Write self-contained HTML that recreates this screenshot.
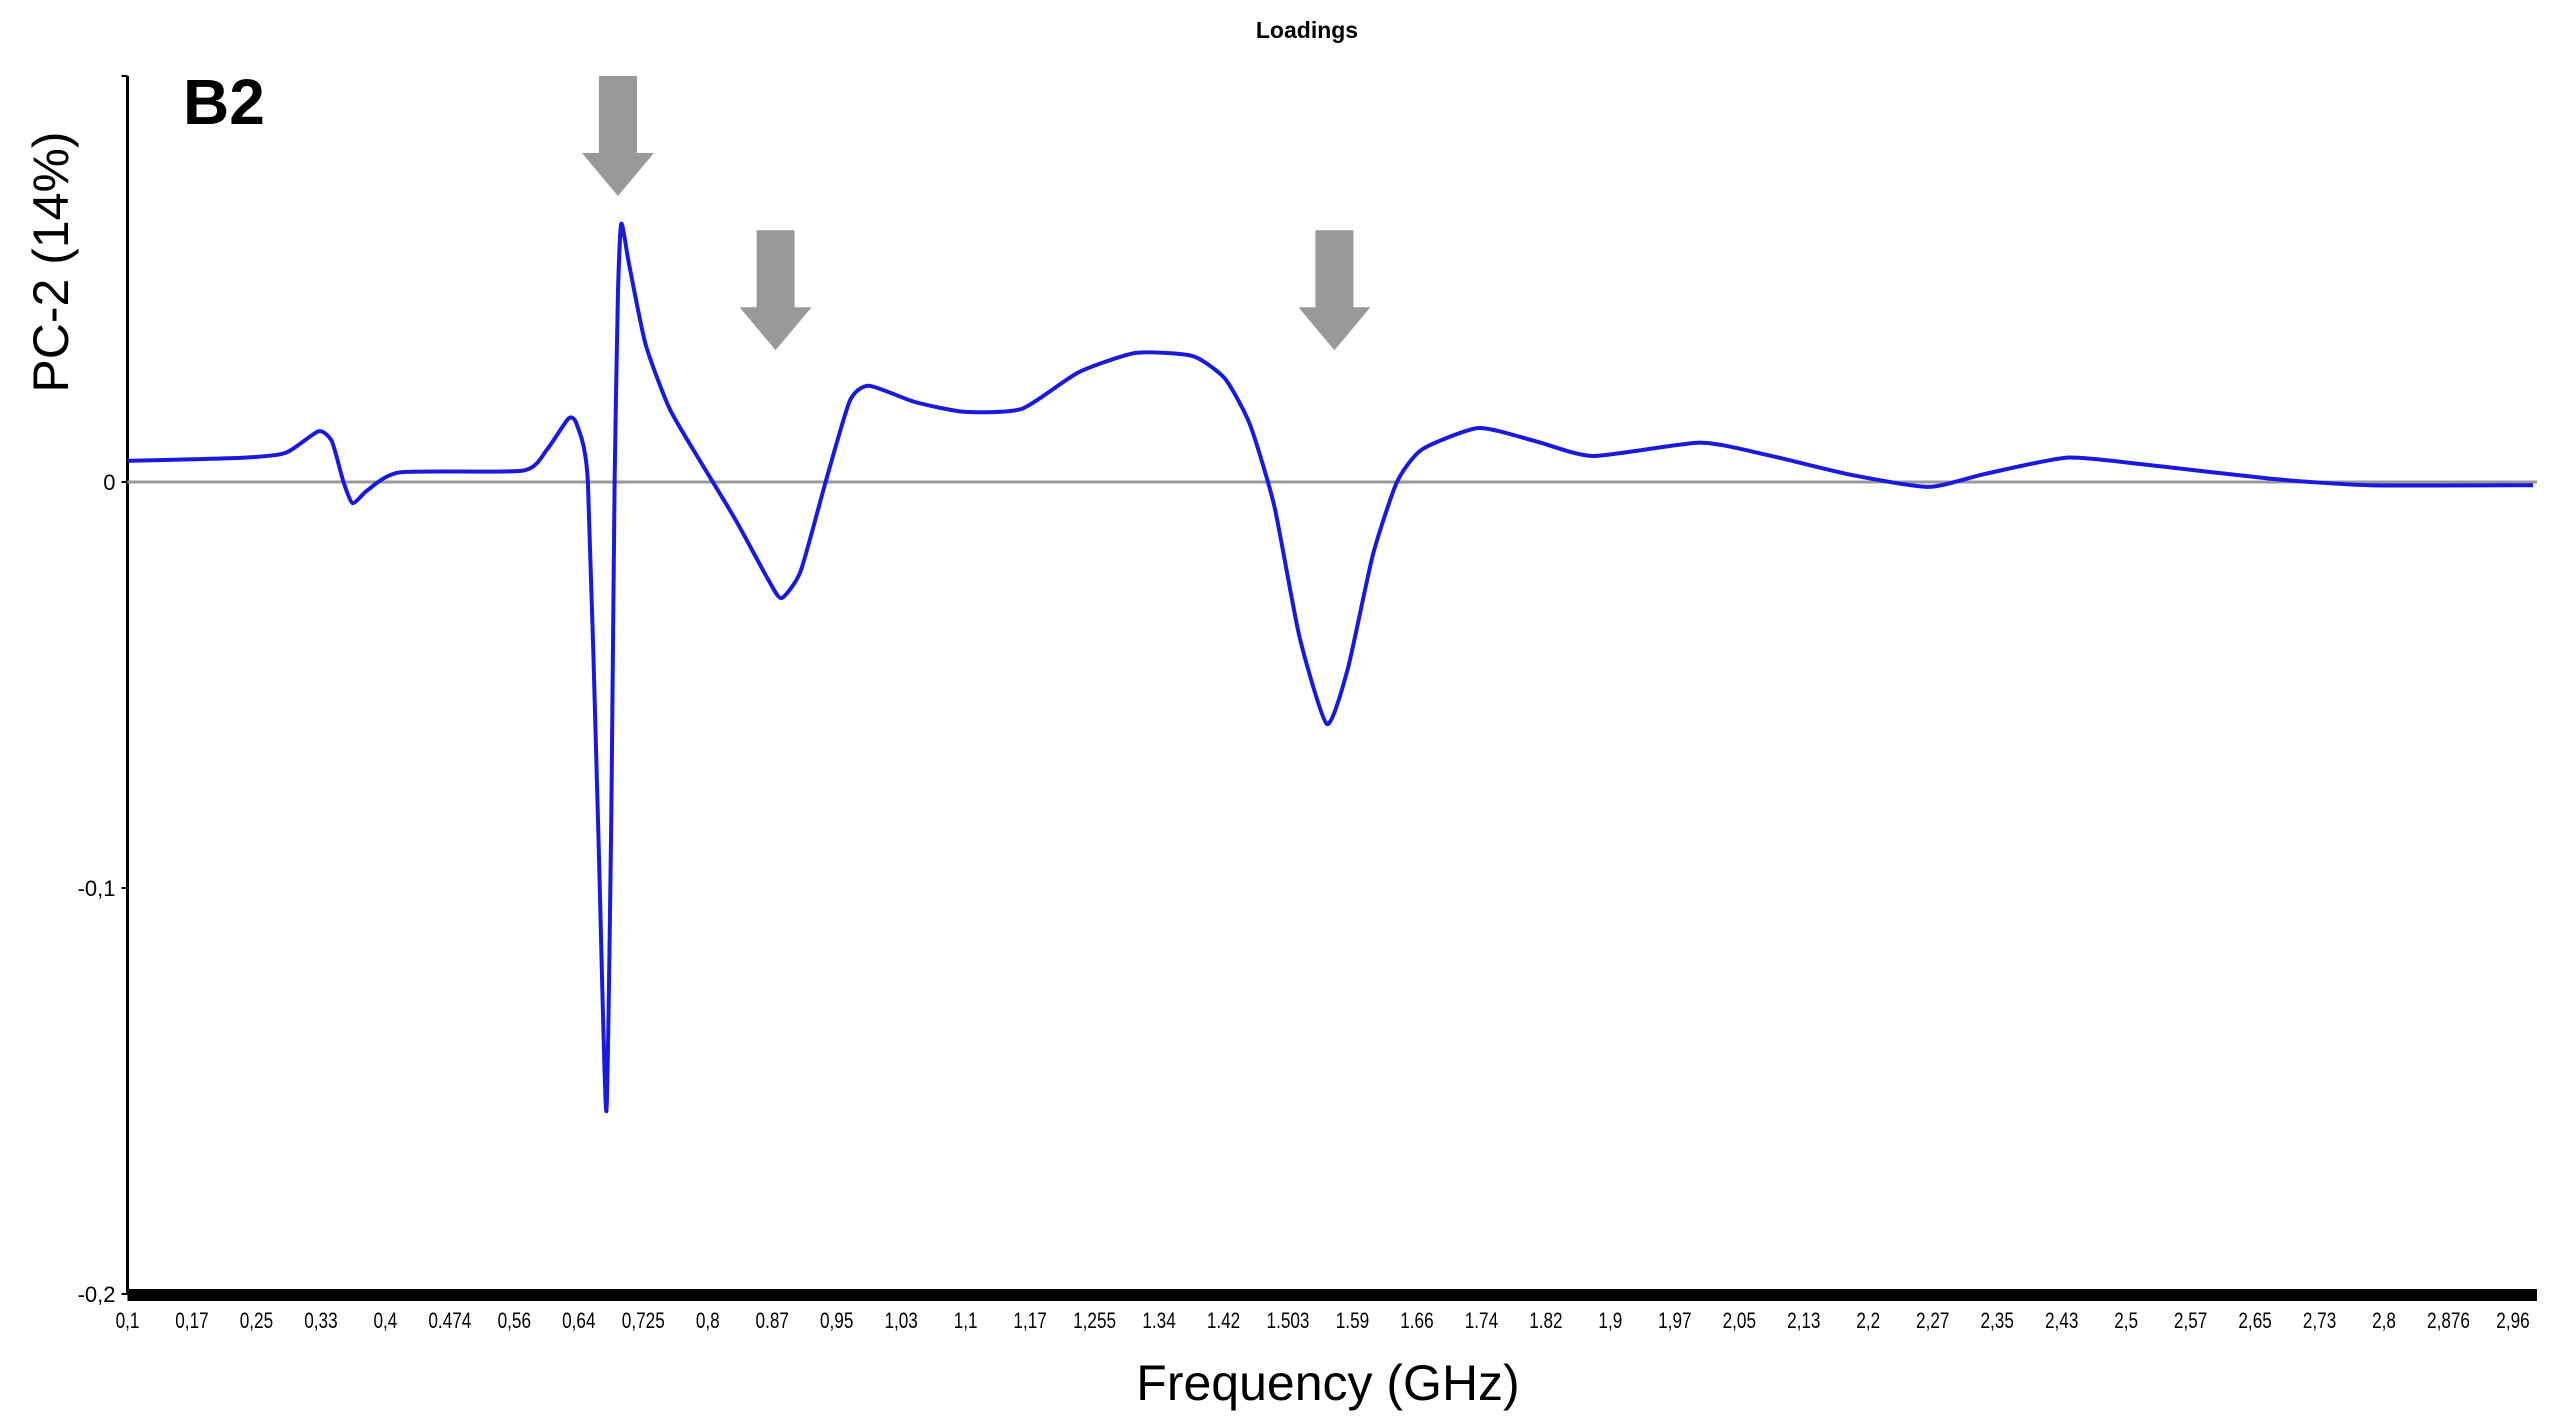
<!DOCTYPE html>
<html><head><meta charset="utf-8"><style>
html,body{margin:0;padding:0;background:#fff;}
svg{display:block;font-family:"Liberation Sans",sans-serif;}
</style></head><body>
<svg id="chart" width="2562" height="1427" viewBox="0 0 2562 1427" xmlns="http://www.w3.org/2000/svg">
<text x="1307" y="38" font-size="23" font-weight="bold" text-anchor="middle">Loadings</text>
<text x="183" y="124" font-size="64" font-weight="bold">B2</text>
<text transform="translate(68,262) rotate(-90)" font-size="50" text-anchor="middle">PC-2 (14%)</text>
<text x="1328" y="1400" font-size="50" text-anchor="middle">Frequency (GHz)</text>
<g id="plot"></g>
</svg>
<script>
const freqs=[0.1,0.241,0.29,0.329,0.345,0.359,0.370,0.388,0.427,0.574,0.603,0.629,0.639,0.652,0.664,0.674,0.680,0.684,0.688,0.692,0.701,0.721,0.750,0.790,0.829,0.868,0.884,0.907,0.937,0.966,0.989,1.044,1.103,1.172,1.240,1.309,1.377,1.416,1.446,1.475,1.505,1.538,1.563,1.593,1.622,1.652,1.72,1.789,1.857,1.985,2.063,2.161,2.259,2.327,2.425,2.514,2.670,2.788,2.984];
const loadings=[0.0052,0.006,0.0072,0.0125,0.010,0,-0.0052,-0.002,0.0024,0.0028,0.008,0.0157,0.014,0,-0.0825,-0.155,-0.0825,0,0.046,0.0636,0.054,0.034,0.018,0.004,-0.0093,-0.024,-0.0286,-0.022,0,0.020,0.0237,0.0197,0.0173,0.018,0.027,0.0318,0.031,0.0254,0.014,-0.006,-0.038,-0.0596,-0.046,-0.018,0,0.008,0.0133,0.010,0.0064,0.0097,0.0068,0.002,-0.0012,0.002,0.006,0.0044,0.0008,-0.0008,-0.0008];
const xTickLabels=["0,1","0,17","0,25","0,33","0,4","0.474","0,56","0,64","0,725","0,8","0.87","0,95","1,03","1,1","1,17","1,255","1.34","1.42","1.503","1.59","1.66","1.74","1.82","1,9","1,97","2,05","2,13","2,2","2,27","2,35","2,43","2,5","2,57","2,65","2,73","2,8","2,876","2,96"];
const yTicks=[0.1,0,-0.1,-0.2];
const yTickLabels=["","0","-0,1","-0,2"];
const arrowFreqs=[0.688,0.877,1.547];
const arrowTopVals=[0.1,0.062,0.062];

const NS="http://www.w3.org/2000/svg";
const X0=127.5,X1=2533,F0=0.1,F1=2.984;
const xs=f=>X0+(f-F0)/(F1-F0)*(X1-X0);
const ys=v=>482-v*4060;
const g=document.getElementById('plot');
function mk(t,a){const e=document.createElementNS(NS,t);for(const k in a)e.setAttribute(k,a[k]);g.appendChild(e);return e;}

const yl=mk('line',{x1:X0,y1:ys(0.1),x2:X0,y2:ys(-0.2),stroke:'#000','stroke-width':3});


const zl=mk('line',{x1:X0,y1:ys(0),x2:X1+4,y2:ys(0),stroke:'#999','stroke-width':3});


const xl=mk('rect',{x:X0,y:ys(-0.2)-5,width:X1+4-X0,height:12,fill:'#000'});



yTicks.forEach((v,i)=>{
  const t=mk('line',{x1:X0-6,y1:ys(v),x2:X0,y2:ys(v),stroke:'#000','stroke-width':2});
  
  
  if(yTickLabels[i]){
    const l=mk('text',{x:X0-12,y:ys(v)+8,'font-size':22,'text-anchor':'end'});
    l.textContent=yTickLabels[i];
    
    
  }
});
const step=(2.96-0.1)/(xTickLabels.length-1);
xTickLabels.forEach((s,i)=>{
  const x=xs(0.1+i*step);
  const l=mk('text',{x:x,y:1328,'font-size':22,'text-anchor':'middle',transform:`translate(${x},0) scale(0.78,1) translate(${-x},0)`});
  l.textContent=s;
  
  
});

arrowFreqs.forEach((f,i)=>{
  const cx=xs(f),top=ys(arrowTopVals[i]);
  const p=`M${cx-19},${top} L${cx+19},${top} L${cx+19},${top+77} L${cx+36},${top+77} L${cx},${top+120} L${cx-36},${top+77} L${cx-19},${top+77} Z`;
  const a=mk('path',{d:p,fill:'#999'});
  
  
});

const pts=freqs.map((f,i)=>[xs(f),ys(loadings[i])]);
let d='M'+pts[0][0].toFixed(1)+','+pts[0][1].toFixed(1);
const T=0.5/3;
for(let i=0;i<pts.length-1;i++){
  const p0=pts[Math.max(i-1,0)],p1=pts[i],p2=pts[i+1],p3=pts[Math.min(i+2,pts.length-1)];
  const c1x=p1[0]+(p2[0]-p0[0])*T*0.6,c1y=p1[1]+(p2[1]-p0[1])*T*0.6;
  const c2x=p2[0]-(p3[0]-p1[0])*T*0.6,c2y=p2[1]-(p3[1]-p1[1])*T*0.6;
  d+=` C${c1x.toFixed(1)},${c1y.toFixed(1)} ${c2x.toFixed(1)},${c2y.toFixed(1)} ${p2[0].toFixed(1)},${p2[1].toFixed(1)}`;
}
const line=mk('path',{d:d,fill:'none',stroke:'#1a1adf','stroke-width':4,'stroke-linejoin':'round'});


</script>
</body></html>
